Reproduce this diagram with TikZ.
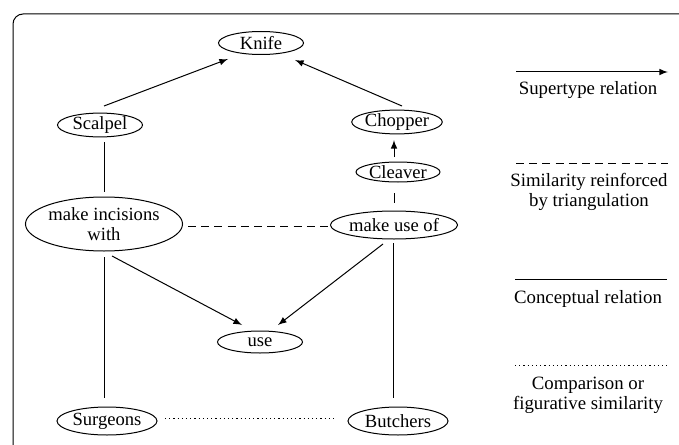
\documentclass[tikz,border=0pt]{standalone}
\usepackage{fontspec}
\setmainfont{Liberation Serif}
\usetikzlibrary{shapes.geometric,calc}
\begin{document}
\begin{tikzpicture}[x=0.5pt,y=-0.5pt]
% Styles
\tikzstyle{fleche}=[->,>=latex,line width=0.5pt]
\tikzstyle{lien}=[line width=0.5pt]
\tikzstyle{tirets}=[line width=0.5pt,dash pattern=on 4pt off 2.6pt]
\tikzstyle{pointille}=[line width=0.5pt,dash pattern=on 0.6pt off 1.5pt]
\tikzstyle{noeud}=[draw,ellipse,line width=0.5pt,inner sep=0pt,font=\fontsize{9.3}{10}\selectfont,align=center]
\tikzstyle{legende}=[inner sep=0pt,font=\fontsize{9.4}{10}\selectfont,align=center]
% Dimensions
\def\LargeurBoite{679}
\def\HauteurBoite{444}
\useasboundingbox (0,0) rectangle (\LargeurBoite,\HauteurBoite);
% Cadre
\draw[lien,rounded corners=5pt] (\LargeurBoite+20,14) -- (13,14) -- (13,\HauteurBoite+20);
% Noeuds
\node[noeud,minimum width=42.5pt,minimum height=11.5pt] (knife) at (261,43) {Knife};
\node[noeud,minimum width=42.5pt,minimum height=10pt] (scalpel) at (100,125) {Scalpel};
\node[noeud,minimum width=40.5pt,minimum height=10pt] (chopper) at (397,122) {Chopper};
\node[noeud,minimum width=42pt,minimum height=10pt] (cleaver) at (398,172) {Cleaver};
\node[noeud,minimum width=76.5pt,minimum height=27pt] (incisions) at (104,224) {make incisions\\with};
\node[noeud,minimum width=61pt,minimum height=14pt] (makeuse) at (394,225) {make use of};
\node[noeud,minimum width=42.5pt,minimum height=11pt] (use) at (260,342) {use};
\node[noeud,minimum width=50pt,minimum height=14pt] (surgeons) at (107,421) {Surgeons};
\node[noeud,minimum width=50pt,minimum height=14pt] (butchers) at (398,421) {Butchers};
% Arcs
\draw[fleche] ($(scalpel)+(4,-19)$) -- ($(knife)+(-33,16)$);
\draw[fleche] ($(chopper)+(5,-16)$) -- ($(knife)+(34,17)$);
\draw[fleche] ($(cleaver)+(-4,-15)$) -- ($(chopper)+(-3,18)$);
\draw[lien] ($(cleaver)+(-4,21)$) -- ($(makeuse)+(0,-22)$);
\draw[lien] ($(scalpel)+(4,17)$) -- ($(incisions)+(0,-32)$);
\draw[tirets] ($(incisions)+(84,2)$) -- ($(makeuse)+(-66,1)$);
\draw[fleche] ($(incisions)+(8,32)$) -- ($(use)+(-18,-17)$);
\draw[fleche] ($(makeuse)+(-11,19)$) -- ($(use)+(18,-17)$);
\draw[lien] ($(incisions)+(0,33)$) -- ($(surgeons)+(-3,-23)$);
\draw[lien] ($(makeuse)+(-1,18)$) -- ($(butchers)+(-5,-23)$);
\draw[pointille] ($(surgeons)+(58,-3)$) -- ($(butchers)+(-61,-3)$);
% Legende
\coordinate (superA) at (516,72);
\coordinate (superB) at (668,72);
\coordinate (simA) at (516,163);
\coordinate (simB) at (668,163);
\coordinate (concA) at (515,279);
\coordinate (concB) at (667,279);
\coordinate (compA) at (515,365);
\coordinate (compB) at (667,365);
\draw[fleche] (superA) -- (superB);
\draw[tirets] (simA) -- (simB);
\draw[lien] (concA) -- (concB);
\draw[pointille] (compA) -- (compB);
\node[legende] (tsuper) at (588,90) {Supertype relation};
\node[legende] (tsim) at (589,192) {Similarity reinforced\\by triangulation};
\node[legende] (tconc) at (588,299) {Conceptual relation};
\node[legende] (tcomp) at (588,395) {Comparison or\\figurative similarity};
\end{tikzpicture}
\end{document}
